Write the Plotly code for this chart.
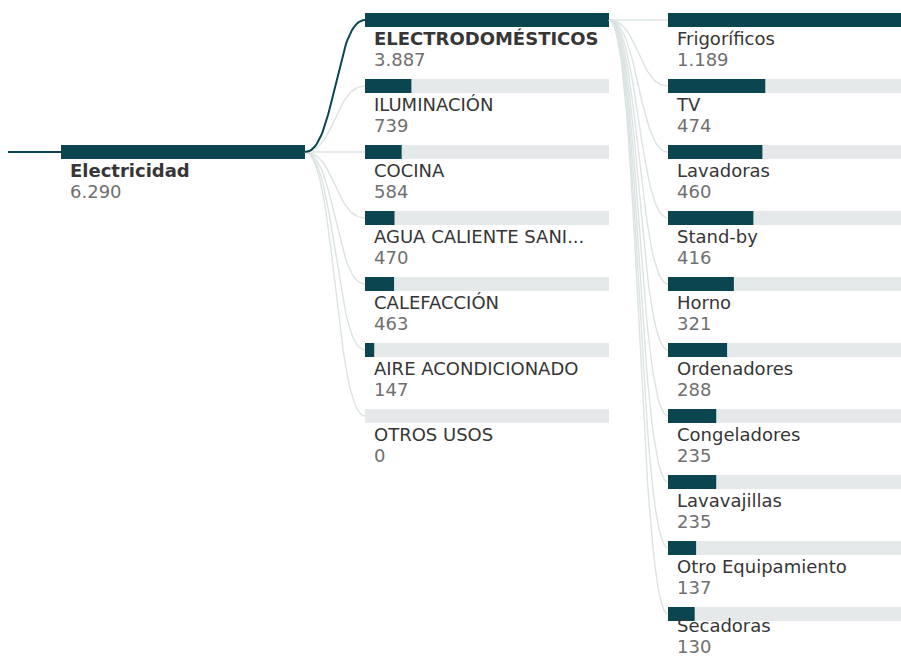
import plotly.graph_objects as go

# ---- data ----
root_name = "Electricidad"
root_value = 6290
root_label = "6.290"

level2_names = ["ELECTRODOMÉSTICOS", "ILUMINACIÓN", "COCINA", "AGUA CALIENTE SANI...",
                "CALEFACCIÓN", "AIRE ACONDICIONADO", "OTROS USOS"]
level2_values = [3887, 739, 584, 470, 463, 147, 0]
level2_labels = ["3.887", "739", "584", "470", "463", "147", "0"]

level3_names = ["Frigoríficos", "TV", "Lavadoras", "Stand-by", "Horno", "Ordenadores",
                "Congeladores", "Lavavajillas", "Otro Equipamiento", "Secadoras"]
level3_values = [1189, 474, 460, 416, 321, 288, 235, 235, 137, 130]
level3_labels = ["1.189", "474", "460", "416", "321", "288", "235", "235", "137", "130"]

selected_l2 = 0

# ---- layout constants ----
W, H = 901, 659
COL_X = [61, 365, 668]
BAR_W = 244
ROW_H = 66
TOP = 20
BAR_H = 14
DARK = "#0B4650"
GREY_BG = "#E6E9E9"
LINK = "#DCE3E3"
NAME_C = "#363636"
VAL_C = "#707070"
FONT = "DejaVu Sans"
FSIZE = 18

root_y = TOP + 2 * ROW_H

cols = [
    ([root_name], [root_value], [root_label], [root_y]),
    (level2_names, level2_values, level2_labels, [TOP + i * ROW_H for i in range(len(level2_names))]),
    (level3_names, level3_values, level3_labels, [TOP + i * ROW_H for i in range(len(level3_names))]),
]

fig = go.Figure()


def bezier(x0, y0, x1, y1, n=40):
    xm = (x0 + x1) / 2
    xs, ys = [], []
    for k in range(n + 1):
        t = k / n
        a, b, c, d = (1 - t) ** 3, 3 * (1 - t) ** 2 * t, 3 * (1 - t) * t ** 2, t ** 3
        xs.append(a * x0 + b * xm + c * xm + d * x1)
        ys.append(a * y0 + b * y0 + c * y1 + d * y1)
    return xs, ys


# links level1 -> level2
px = COL_X[0] + BAR_W
for i, y in enumerate(cols[1][3]):
    if i == selected_l2:
        continue
    xs, ys = bezier(px, root_y, COL_X[1], y)
    fig.add_trace(go.Scatter(x=xs, y=ys, mode="lines", line=dict(color=LINK, width=1.4),
                             hoverinfo="skip", showlegend=False))
xs, ys = bezier(px, root_y, COL_X[1], cols[1][3][selected_l2])
fig.add_trace(go.Scatter(x=xs, y=ys, mode="lines", line=dict(color=DARK, width=2),
                         hoverinfo="skip", showlegend=False))

# links level2 -> level3
px2 = COL_X[1] + BAR_W
py2 = cols[1][3][selected_l2]
for y in cols[2][3]:
    xs, ys = bezier(px2, py2, COL_X[2], y)
    fig.add_trace(go.Scatter(x=xs, y=ys, mode="lines", line=dict(color=LINK, width=1.4),
                             hoverinfo="skip", showlegend=False))

# incoming line to root
fig.add_trace(go.Scatter(x=[8, COL_X[0]], y=[root_y, root_y], mode="lines",
                         line=dict(color=DARK, width=2), hoverinfo="skip", showlegend=False))

# bars
bg_x, bg_y, bg_base = [], [], []
fg_x, fg_y, fg_base = [], [], []
for ci, (names, vals, labs, ys_) in enumerate(cols):
    mx = max(vals)
    for v, y in zip(vals, ys_):
        bg_x.append(BAR_W); bg_y.append(y); bg_base.append(COL_X[ci])
        fg_x.append(BAR_W * v / mx); fg_y.append(y); fg_base.append(COL_X[ci])

fig.add_trace(go.Bar(x=bg_x, y=bg_y, base=bg_base, orientation="h", width=BAR_H,
                     marker=dict(color=GREY_BG, line=dict(width=0)), hoverinfo="skip", showlegend=False))
fig.add_trace(go.Bar(x=fg_x, y=fg_y, base=fg_base, orientation="h", width=BAR_H,
                     marker=dict(color=DARK, line=dict(width=0)), hoverinfo="skip", showlegend=False))

# labels (clamped so the last row stays inside the frame)
for ci, (names, vals, labs, ys_) in enumerate(cols):
    tx = COL_X[ci] + 9
    shown = []
    for i, n in enumerate(names):
        bold = (ci == 0) or (ci == 1 and i == selected_l2)
        shown.append(f"<b>{n}</b>" if bold else n)
    val_y = [min(y + 41, H - 11) for y in ys_]
    name_y = [min(y + 20, vy - 21) for y, vy in zip(ys_, val_y)]
    fig.add_trace(go.Scatter(x=[tx] * len(names), y=name_y, mode="text",
                             text=shown, textposition="middle right",
                             textfont=dict(family=FONT, size=FSIZE, color=NAME_C),
                             hoverinfo="skip", showlegend=False))
    fig.add_trace(go.Scatter(x=[tx] * len(names), y=val_y, mode="text",
                             text=labs, textposition="middle right",
                             textfont=dict(family=FONT, size=FSIZE, color=VAL_C),
                             hoverinfo="skip", showlegend=False))

fig.update_layout(
    width=W, height=H, margin=dict(l=0, r=0, t=0, b=0),
    paper_bgcolor="white", plot_bgcolor="white", barmode="overlay",
    xaxis=dict(range=[0, W], visible=False, fixedrange=True),
    yaxis=dict(range=[H, 0], visible=False, fixedrange=True),
    showlegend=False,
)

fig.write_html("out.html", config={"displayModeBar": False},
               post_script="document.body.style.margin='0px';")
